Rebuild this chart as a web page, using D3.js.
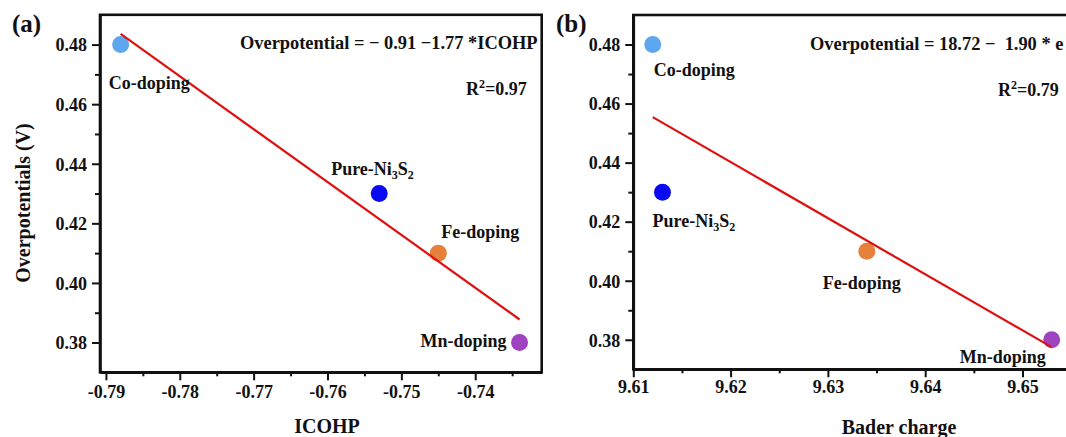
<!DOCTYPE html>
<html>
<head>
<meta charset="utf-8">
<script src="https://cdn.jsdelivr.net/npm/d3@7"></script>
<style>
  body { margin: 0; background: #fff; }
  svg { display: block; }
  text { font-family: "Liberation Serif", "Times New Roman", serif; font-weight: bold; fill: #111; }
  .domain, .tick line { stroke: #111; }
</style>
</head>
<body>
<svg id="chart" width="1066" height="437"></svg>
<script>
// 1: DATA
const dopants = ["Pure-Ni3S2", "Co-doping", "Fe-doping", "Mn-doping"];
const overpotentials = [0.43, 0.48, 0.41, 0.38];
const icohp = [-0.753, -0.788, -0.745, -0.734];
const baderCharge = [9.613, 9.612, 9.634, 9.653];
const icohpTicks = [-0.79, -0.78, -0.77, -0.76, -0.75, -0.74];
const baderTicks = [9.61, 9.62, 9.63, 9.64, 9.65];
const yTicks = [0.38, 0.40, 0.42, 0.44, 0.46, 0.48];

const colors = { "Pure-Ni3S2": "#0a0af2", "Co-doping": "#5ea6ee", "Fe-doping": "#e5813b", "Mn-doping": "#a043c0" };

const svg = d3.select("#chart");

// least squares fit
function fit(xs, ys) {
    const mx = d3.mean(xs), my = d3.mean(ys);
    const sxy = d3.sum(xs, (x, i) => (x - mx) * (ys[i] - my));
    const sxx = d3.sum(xs, x => (x - mx) * (x - mx));
    const slope = sxy / sxx;
    return { slope, intercept: my - slope * mx };
}

// 2: PANEL SETUP
const panels = [
    {
        xs: icohp, xTicks: icohpTicks,
        xDomain: [-0.7908, -0.7310], xRange: [100, 541.7], yRange: [372.3, 14.8],
        tickLabelY: 26, letter: "(a)", letterPos: [12, 32],
        eq: "Overpotential = \u2212 0.91 \u22121.77 *ICOHP", eqPos: [240, 48.5],
        r2: "0.97", r2Pos: [466, 94.5],
        xTitle: "ICOHP", xTitlePos: [327, 433], yTitle: "Overpotentials (V)",
        labels: { "Pure-Ni3S2": [-48, -19, "start"], "Co-doping": [-12, 44, "start"], "Fe-doping": [3, -15, "start"], "Mn-doping": [-13, 4, "end"] }
    },
    {
        xs: baderCharge, xTicks: baderTicks,
        xDomain: [9.61, 9.6555], xRange: [633.3, 1076], yRange: [369.3, 15],
        tickLabelY: 23.7, letter: "(b)", letterPos: [556, 32],
        eq: "Overpotential = 18.72 \u2212  1.90 * e", eqPos: [810, 50],
        r2: "0.79", r2Pos: [998, 95.5],
        xTitle: "Bader charge", xTitlePos: [899, 434], yTitle: null,
        labels: { "Pure-Ni3S2": [-10, 35, "start"], "Co-doping": [1, 31, "start"], "Fe-doping": [-44, 37.5, "start"], "Mn-doping": [-6, 23.5, "end"] }
    }
];

panels.forEach(p => {
    const x = d3.scaleLinear().domain(p.xDomain).range(p.xRange);
    const y = d3.scaleLinear().domain([0.37, 0.49]).range(p.yRange);
    const g = svg.append("g");
    const [x0, x1] = p.xRange, [y0, y1] = p.yRange;

    // frame
    g.append("rect")
        .attr("x", x0).attr("y", y1)
        .attr("width", x1 - x0).attr("height", y0 - y1)
        .attr("fill", "none").attr("stroke", "#111").attr("stroke-width", 2.6);

    // minor ticks
    const step = p.xTicks[1] - p.xTicks[0];
    const xMinor = p.xTicks.map(t => t + step / 2).filter(t => x(t) < x1);
    g.append("g")
        .attr("transform", `translate(0,${y0})`)
        .call(d3.axisBottom(x).tickValues(xMinor).tickSize(4).tickFormat(""))
        .call(a => a.select(".domain").remove())
        .selectAll("line").attr("stroke-width", 2);
    g.append("g")
        .attr("transform", `translate(${x0},0)`)
        .call(d3.axisLeft(y).tickValues([0.39, 0.41, 0.43, 0.45, 0.47]).tickSize(5).tickFormat(""))
        .call(a => a.select(".domain").remove())
        .selectAll("line").attr("stroke-width", 2);

    // major ticks
    const xAxis = g.append("g")
        .attr("transform", `translate(0,${y0})`)
        .call(d3.axisBottom(x).tickValues(p.xTicks).tickSize(8).tickSizeOuter(0).tickFormat(d => d.toFixed(2)));
    xAxis.select(".domain").attr("stroke-width", 2.6);
    xAxis.selectAll(".tick line").attr("stroke-width", 2);
    xAxis.selectAll("text")
        .attr("y", p.tickLabelY).attr("dy", 0)
        .style("font-size", "18px").style("font-family", "Liberation Serif").style("font-weight", "bold").attr("fill", "#111");

    const yAxis = g.append("g")
        .attr("transform", `translate(${x0},0)`)
        .call(d3.axisLeft(y).tickValues(yTicks).tickSize(8).tickSizeOuter(0).tickFormat(d => d.toFixed(2)));
    yAxis.select(".domain").attr("stroke-width", 2.6);
    yAxis.selectAll(".tick line").attr("stroke-width", 2);
    yAxis.selectAll("text")
        .attr("x", -13).attr("dy", "0.35em")
        .style("font-size", "18px").style("font-family", "Liberation Serif").style("font-weight", "bold").attr("fill", "#111");

    // points
    const pts = dopants.map((d, i) => ({ name: d, x: p.xs[i], y: overpotentials[i] }));
    g.selectAll(".pt").data(pts).enter().append("circle")
        .attr("cx", d => x(d.x)).attr("cy", d => y(d.y))
        .attr("r", 8.5).attr("fill", d => colors[d.name]);

    // fit line
    const f = fit(p.xs, overpotentials);
    const ext = d3.extent(p.xs);
    g.append("path")
        .datum(ext)
        .attr("d", d3.line().x(v => x(v)).y(v => y(f.intercept + f.slope * v)))
        .attr("stroke", "#e01010").attr("stroke-width", 2.2).attr("fill", "none");

    // point labels
    pts.forEach(d => {
        const [dx, dy, anchor] = p.labels[d.name];
        const t = g.append("text")
            .attr("x", x(d.x) + dx).attr("y", y(d.y) + dy)
            .attr("text-anchor", anchor).style("font-size", "18px");
        if (d.name === "Pure-Ni3S2") {
            t.append("tspan").text("Pure-Ni");
            t.append("tspan").text("3").style("font-size", "12px").attr("dy", 4);
            t.append("tspan").text("S").attr("dy", -4);
            t.append("tspan").text("2").style("font-size", "12px").attr("dy", 4);
        } else {
            t.text(d.name);
        }
    });

    // annotations
    g.append("text").attr("x", p.letterPos[0]).attr("y", p.letterPos[1])
        .style("font-size", "25px").text(p.letter);
    g.append("text").attr("x", p.eqPos[0]).attr("y", p.eqPos[1])
        .style("font-size", "18.4px").style("white-space", "pre").text(p.eq);
    const r2 = g.append("text").attr("x", p.r2Pos[0]).attr("y", p.r2Pos[1]).style("font-size", "18px");
    r2.append("tspan").text("R");
    r2.append("tspan").text("2").style("font-size", "12px").attr("dy", -7);
    r2.append("tspan").text("=" + p.r2).attr("dy", 7);

    g.append("text").attr("x", p.xTitlePos[0]).attr("y", p.xTitlePos[1])
        .attr("text-anchor", "middle").style("font-size", "20px").text(p.xTitle);
    if (p.yTitle) {
        g.append("text")
            .attr("transform", "rotate(-90)")
            .attr("x", -203).attr("y", 30)
            .attr("text-anchor", "middle").style("font-size", "20px").text(p.yTitle);
    }
});
</script>
</body>
</html>
